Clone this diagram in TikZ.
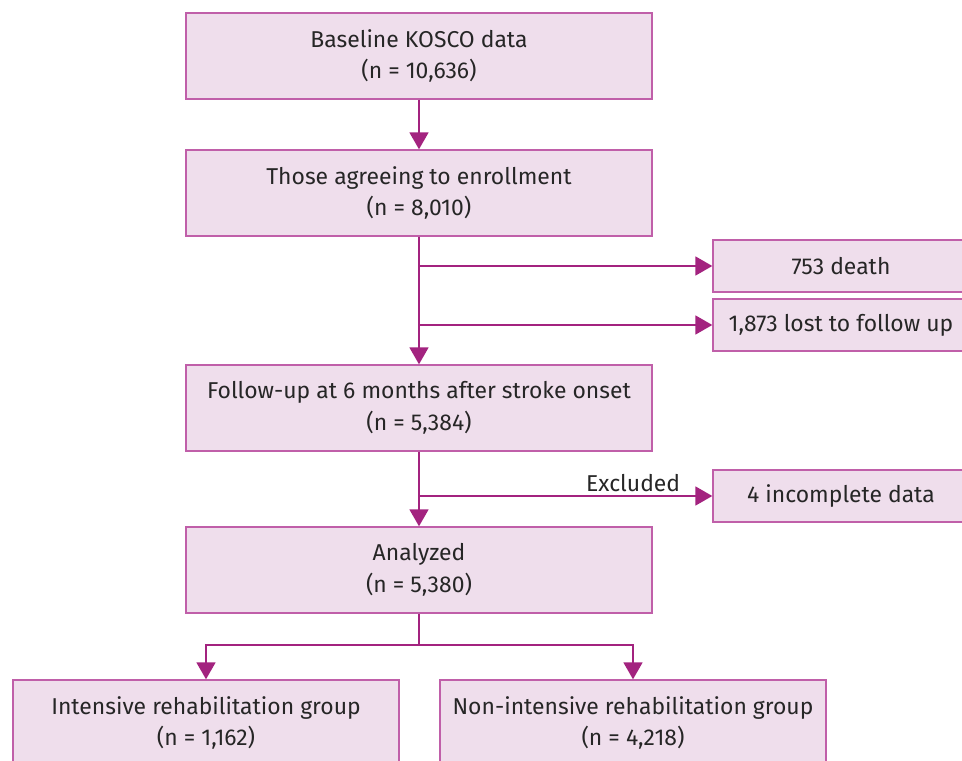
\documentclass[tikz,border=0pt]{standalone}
\usepackage{fontspec}
\setmainfont{Fira Sans}
\usetikzlibrary{arrows.meta}
\usetikzlibrary{positioning}

\definecolor{boxfill}{HTML}{EFDEEC}
\definecolor{boxline}{HTML}{C05FA9}
\definecolor{flowline}{HTML}{A3237F}
\definecolor{txt}{HTML}{262626}

\tikzset{
  stage/.style={draw=boxline, fill=boxfill, line width=1pt, text=txt,
    minimum width=466*0.025cm, minimum height=86*0.025cm, align=center,
    font=\fontsize{16.3}{22.5}\selectfont},
  sidebox/.style={stage, minimum width=256*0.025cm, minimum height=52*0.025cm},
  groupbox/.style={stage, minimum width=386*0.025cm},
  flow/.style={draw=flowline, line width=1pt,
    -{Triangle[length=12pt,width=13.5pt]}},
}

\begin{document}
\begin{tikzpicture}[x=0.025cm,y=0.025cm]
        \useasboundingbox (0,0) rectangle (962,-761);

        % main column
        \node[stage] (base) at (419,-56) {Baseline KOSCO data\\(n = 10,636)};
        \node[stage] (agree) at (419,-193) {Those agreeing to enrollment\\(n = 8,010)};
        \node[stage] (follow) at (419,-408) {Follow-up at 6 months after stroke onset\\(n = 5,384)};
        \node[stage] (analyzed) at (419,-570) {Analyzed\\(n = 5,380)};

        % boxes on the right
        \node[sidebox] (death) at (841,-266) {753 death};
        \node[sidebox] (lost) at (841,-325) {1,873 lost to follow up};
        \node[sidebox] (excl) at (841,-496) {4 incomplete data};

        % the two groups
        \node[groupbox] (intensive) at (206,-723) {Intensive rehabilitation group\\(n = 1,162)};
        \node[groupbox] (nonint) at (633,-723) {Non-intensive rehabilitation group\\(n = 4,218)};

        % arrows down
        \draw[flow] (base) -- (agree);
        \draw[flow] (agree) -- (follow);
        \draw[flow] (follow) -- (analyzed);

        % arrows to the side
        \foreach \b in {death,lost} {
                \draw[flow] (agree.south |- \b.west) -- (\b.west);
        }
        \draw[flow] (follow.south |- excl.west) -- node[pos=0.73,above=-1pt,text=txt,
                font=\fontsize{16.3}{19}\selectfont] (exlabel) {Excluded} (excl.west);

        % split into groups
        \coordinate (split) at (419,-645);
        \draw[flow] (analyzed.south) -- (split) -| (intensive.north);
        \draw[flow] (split) -| (nonint.north);
\end{tikzpicture}
\end{document}
